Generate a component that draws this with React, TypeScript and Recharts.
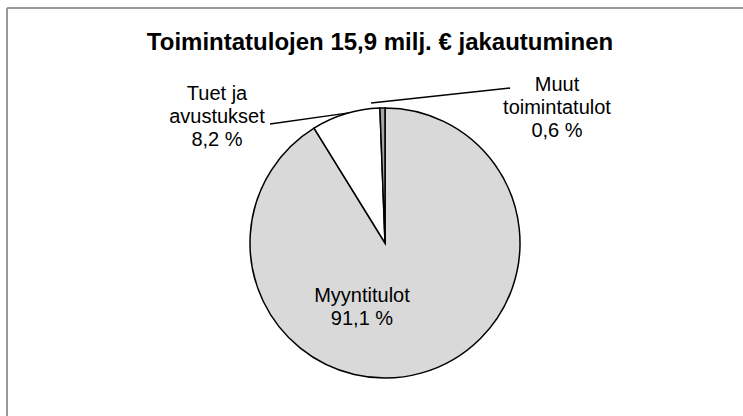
import React from 'react';
import { PieChart, Pie, Cell } from 'recharts';

const categories = ['Myyntitulot', 'Tuet ja avustukset', 'Muut toimintatulot'];
const shares = [91.1, 8.2, 0.6];
const valueLabels = ['91,1 %', '8,2 %', '0,6 %'];
const nameLines = [['Myyntitulot'], ['Tuet ja', 'avustukset'], ['Muut', 'toimintatulot']];
const sliceColors = ['#d9d9d9', '#ffffff', '#a6a6a6'];
const chartTitle = 'Toimintatulojen 15,9 milj. € jakautuminen';

const data = categories.map((name, i) => ({ name, value: shares[i] }));

// label layout relative to pie centre (text centre x, first baseline y)
const labelLayout = [
  { tx: -23, ty: 59, line: null },
  { tx: -168, ty: -143, line: { angleShift: -1.4, radiusShift: 0, ex: -115, ey: -119 } },
  { tx: 172, ty: -152, line: { angleShift: 4.6, radiusShift: 5.7, ex: 125, ey: -155 } },
];

const FONT = '"Liberation Sans", Arial, sans-serif';
const RAD = Math.PI / 180;

const renderLabel = (props: any) => {
  const { cx, cy, midAngle, outerRadius, index } = props;
  const lay = labelLayout[index];
  const lines = [...nameLines[index], valueLabels[index]];
  let lineEl = null;
  if (lay.line) {
    const a = (midAngle + lay.line.angleShift) * RAD;
    const r = outerRadius + lay.line.radiusShift;
    const sx = cx + r * Math.cos(a);
    const sy = cy - r * Math.sin(a);
    lineEl = (
      <line x1={sx} y1={sy} x2={cx + lay.line.ex} y2={cy + lay.line.ey} stroke="#000" strokeWidth={1.3} />
    );
  }
  return (
    <g key={`lbl-${index}`}>
      {lineEl}
      <text x={cx + lay.tx} y={cy + lay.ty} textAnchor="middle" fontFamily={FONT} fontSize={20} fill="#000">
        {lines.map((t, i) => (
          <tspan key={i} x={cx + lay.tx} dy={i === 0 ? 0 : 23}>{t}</tspan>
        ))}
      </text>
    </g>
  );
};

export default function App() {
  return (
    <div style={{ position: 'absolute', left: 0, top: 0, width: 743, height: 416, overflow: 'hidden', background: '#fff' }}>
      <svg width={743} height={416} style={{ position: 'absolute', left: 0, top: 0 }}>
        <line x1={7} y1={8} x2={743} y2={8} stroke="#999" strokeWidth={2} />
        <line x1={7} y1={8} x2={7} y2={416} stroke="#999" strokeWidth={2} />
        <text x={380} y={49.5} textAnchor="middle" fontFamily={FONT} fontWeight="bold" fontSize={24} fill="#000">
          {chartTitle}
        </text>
      </svg>
      <div style={{ position: 'absolute', left: 0, top: 0 }}>
        <PieChart width={743} height={416}>
          <Pie
            data={data}
            dataKey="value"
            nameKey="name"
            cx={380}
            cy={238}
            outerRadius={135}
            startAngle={90}
            endAngle={-270}
            stroke="#000"
            strokeWidth={1.5}
            isAnimationActive={false}
            label={renderLabel}
            labelLine={false}
          >
            {data.map((d, i) => (
              <Cell key={d.name} fill={sliceColors[i]} />
            ))}
          </Pie>
        </PieChart>
      </div>
    </div>
  );
}
